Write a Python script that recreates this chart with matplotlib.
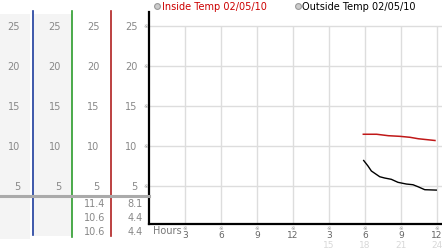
import numpy as np
import matplotlib
matplotlib.use('Agg')
import matplotlib.pyplot as plt
from matplotlib.transforms import blended_transform_factory

plt.rcParams['font.family'] = ['DejaVu Sans', 'Noto Sans CJK JP']

################ data ################
inside_hours = [17.86, 18.97, 19.94, 20.92, 21.75, 22.44, 23.83]
inside_temp = [11.43, 11.43, 11.25, 11.17, 11.05, 10.87, 10.65]

outside_hours = [17.89, 18.25, 18.53, 18.81, 19.23, 19.64, 20.19, 20.75,
                 21.44, 22.0, 22.42, 22.98, 23.94]
outside_temp = [8.15, 7.46, 6.84, 6.55, 6.12, 5.96, 5.8, 5.42,
                5.21, 5.12, 4.87, 4.5, 4.45]

y_ticks = [5, 10, 15, 20, 25]
x_ticks = [3, 6, 9, 12, 15, 18, 21, 24]
x_labels = ['3', '6', '9', '12', '3', '6', '9', '12']
x_labels2 = ['', '', '', '', '15', '18', '21', '24']

legend_names = ['Inside Temp 02/05/10', 'Outside Temp 02/05/10']
inside_stats = ['11.4', '10.6', '10.6']
outside_stats = ['8.1', '4.4', '4.4']

################ figure / pixel helpers ################
W, H = 442, 253
fig = plt.figure(figsize=(W/100, H/100), dpi=100)

# main plot: x 149..442 px, y 13..225 px
x0, ytop, ybot = 149, 13, 225
ax = fig.add_axes([x0/W, (H-ybot)/H, (W-x0)/W, (ybot-ytop)/H])
px_per_hour = 12.0
px_per_deg = 8.0
y5_px = 186.7
ax.set_xlim(0, (W-x0)/px_per_hour)
ax.set_ylim(5+(y5_px-ybot)/px_per_deg, 5+(y5_px-ytop)/px_per_deg)
for s in ['top', 'right']:
    ax.spines[s].set_visible(False)
ax.spines['left'].set_linewidth(1.6)
ax.spines['bottom'].set_linewidth(1.6)
ax.set_xticks([])
ax.set_yticks([])

# grid
ax.hlines(y_ticks, 0, ax.get_xlim()[1], color='#dddddd', lw=1, zorder=0)
ax.vlines(x_ticks, ax.get_ylim()[0], 25, color='#dddddd', lw=1, zorder=0)

# series
ax.plot(inside_hours, inside_temp, color='#c01818', lw=1.1)
ax.plot(outside_hours, outside_temp, color='black', lw=1.0)

# x tick labels (pixel rows converted to axes fractions)
xt = ax.get_xaxis_transform()
def row(py):
    return (ybot - py) / (ybot - ytop)

for h, l1, l2 in zip(x_ticks, x_labels, x_labels2):
    ax.text(h, row(228.3), '※', transform=xt, ha='center', va='center', fontsize=4,
            color='#999999', clip_on=False)
    ax.text(h, row(236), l1, transform=xt, ha='center', va='center', fontsize=6.5,
            color='#666666', clip_on=False)
    if l2:
        ax.text(h, row(245.5), l2, transform=xt, ha='center', va='center', fontsize=6.5,
                color='#d8d8d8', clip_on=False)
ax.text(0.3, row(231.5), 'Hours', transform=xt, ha='left', va='center', fontsize=7,
        color='#777777', clip_on=False)

################ left panel and legend in pixel coords ################
axp = fig.add_axes([0, 0, 1, 1], zorder=5)
axp.set_xlim(0, W)
axp.set_ylim(H, 0)
axp.axis('off')
axp.patch.set_alpha(0)

# grey column backgrounds
axp.fill_between([0, 30], 15, 240, color='#f4f4f4', lw=0, zorder=0)
axp.fill_between([34, 72], 15, 237, color='#f4f4f4', lw=0, zorder=0)

# column separators
axp.plot([33, 33], [12, 236], color='#1d3c9c', lw=1.2)
axp.plot([72, 72], [12, 238], color='#2c9c2c', lw=1.2)
axp.plot([111, 111], [12, 237], color='#b02020', lw=1.2)
axp.plot([0, x0], [197, 197], color='#aaaaaa', lw=2.2)

# y labels in each column, placed with the main plot's y-scale
bt = blended_transform_factory(axp.transData, ax.transData)
for v in y_ticks:
    for xr in [20, 61, 99.5, 137.5]:
        axp.text(xr, v, str(v), transform=bt, ha='right', va='center',
                 fontsize=7, color='#888888')
    axp.text(145.5, v, '※', transform=bt, ha='center', va='center',
             fontsize=4, color='#999999')

# stats table under the separator
for i, (a, b) in enumerate(zip(inside_stats, outside_stats)):
    yy = 204 + 14*i
    axp.text(105, yy, a, ha='right', va='center', fontsize=7, color='#888888')
    axp.text(143, yy, b, ha='right', va='center', fontsize=7, color='#888888')

# legend
axp.plot([157, 298], [7, 7], ls='none', marker='o', ms=4.2,
         mfc='#cccccc', mec='#999999', mew=0.8)
axp.text(162, 7, legend_names[0], ha='left', va='center', fontsize=7, color='#cc0000')
axp.text(302, 7, legend_names[1], ha='left', va='center', fontsize=7, color='black')

fig.savefig('out.png', dpi=100)
